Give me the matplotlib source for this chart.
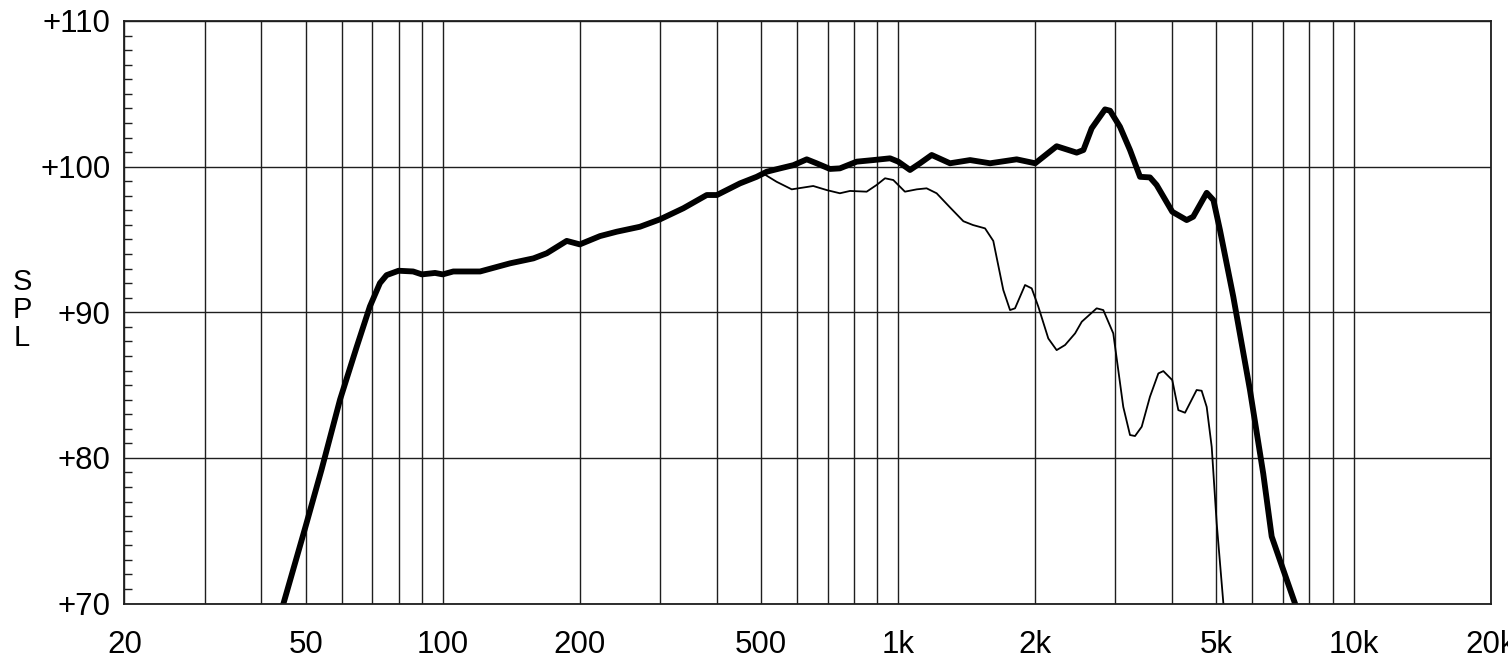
import matplotlib
matplotlib.use("Agg")
import matplotlib.pyplot as plt
from matplotlib.ticker import FixedLocator, NullFormatter, MultipleLocator

plt.rcParams['font.family'] = ['Liberation Sans', 'DejaVu Sans']

# on-axis response (thick)
freq_thick = [44.7, 50, 54.2, 59.5, 64.7, 69.2, 72.8, 75.3, 80, 86.1, 90, 96.2, 100,
              105.5, 120.8, 140.6, 158.2, 169.2, 187.2, 200, 221.5, 241, 271, 300,
              337.6, 380, 400, 449.6, 489, 514.7, 550.6, 588.8, 630, 662, 708.6, 745,
              810.9, 882, 960, 1001, 1062, 1117, 1185, 1300, 1439, 1592, 1821, 2000,
              2229, 2467, 2552, 2661, 2847, 2920, 3070, 3230, 3398, 3573, 3695, 4000,
              4302, 4446, 4760, 4925, 5090, 5445, 5924, 6337, 6612, 7013, 7440]
spl_thick = [70.0, 75.3, 79.2, 84.0, 87.6, 90.4, 92.0, 92.55, 92.85, 92.8, 92.6, 92.7, 92.6,
             92.8, 92.8, 93.36, 93.7, 94.05, 94.9, 94.66, 95.23, 95.53, 95.87, 96.38,
             97.14, 98.05, 98.05, 98.85, 99.3, 99.65, 99.88, 100.1, 100.5, 100.23, 99.84, 99.88,
             100.34, 100.45, 100.57, 100.34, 99.77, 100.23, 100.8, 100.23, 100.45, 100.23, 100.5, 100.23,
             101.4, 100.96, 101.14, 102.63, 103.93, 103.84, 102.74, 101.14, 99.3, 99.26, 98.74, 96.9,
             96.33, 96.56, 98.2, 97.7, 95.65, 91.07, 84.66, 78.9, 74.6, 72.3, 70.0]

# off-axis response (thin)
freq_thin = [489, 507, 541, 584, 651, 697, 745, 784, 853, 897, 936, 976, 1035, 1099, 1155,
             1215, 1300, 1391, 1460, 1552, 1618, 1702, 1761, 1806, 1900, 1965, 2032, 2137,
             2229, 2326, 2447, 2531, 2729, 2822, 2968, 3122, 3230, 3313, 3427, 3573, 3728,
             3823, 4000, 4124, 4266, 4524, 4640, 4760, 4882, 5007, 5179]
spl_thin = [99.3, 99.5, 98.96, 98.44, 98.67, 98.39, 98.17, 98.33, 98.28, 98.74, 99.2, 99.08,
            98.28, 98.44, 98.51, 98.17, 97.2, 96.25, 95.99, 95.76, 94.9, 91.53, 90.15, 90.27,
            91.87, 91.64, 90.38, 88.2, 87.4, 87.75, 88.55, 89.35, 90.27, 90.15, 88.55, 83.5,
            81.57, 81.5, 82.14, 84.2, 85.8, 85.96, 85.34, 83.28, 83.1, 84.66, 84.61, 83.5,
            80.76, 75.5, 70.0]

label_freqs = [20, 50, 100, 200, 500, 1000, 2000, 5000, 10000, 20000]
label_texts = ["20", "50", "100", "200", "500", "1k", "2k", "5k", "10k", "20k"]
grid_freqs = [30, 40, 60, 70, 80, 90, 300, 400, 600, 700, 800, 900,
              3000, 4000, 6000, 7000, 8000, 9000]
spl_ticks = [70, 80, 90, 100, 110]
spl_texts = ["+70", "+80", "+90", "+100", "+110"]

W, H = 1508, 671
fig = plt.figure(figsize=(W / 100, H / 100), dpi=100)
ax = fig.add_axes([124.4 / W, 1 - 603.5 / H, (1490.6 - 124.4) / W, (603.5 - 21) / H])

ax.set_xscale("log")
ax.set_xlim(20, 20000)
ax.set_ylim(70, 110)

gc = "#1e1e1e"
ax.xaxis.set_major_locator(FixedLocator(label_freqs))
ax.xaxis.set_minor_locator(FixedLocator(grid_freqs))
ax.xaxis.set_minor_formatter(NullFormatter())
ax.set_xticklabels(label_texts)
ax.yaxis.set_major_locator(FixedLocator(spl_ticks))
ax.set_yticklabels(spl_texts)
ax.yaxis.set_minor_locator(MultipleLocator(1))

ax.grid(True, which="major", color=gc, linewidth=1.0)
ax.grid(True, which="minor", axis="x", color=gc, linewidth=1.0)

ax.tick_params(axis="x", which="both", length=0, pad=19, labelsize=22.5)
ax.tick_params(axis="y", which="major", length=0, pad=10, labelsize=22.5)
ax.tick_params(axis="y", which="minor", direction="in", length=6, width=1.0, color=gc)
for s in ax.spines.values():
    s.set_color(gc)
    s.set_linewidth(1.3)

ax.plot(freq_thin, spl_thin, color="black", linewidth=1.3)
ax.plot(freq_thick, spl_thick, color="black", linewidth=4.2, solid_joinstyle="round")

fig.text(22 / W, 1 - 310 / H, "S\nP\nL", ha="center", va="center", fontsize=21,
         linespacing=1.0)

fig.savefig("out.png", dpi=100)
